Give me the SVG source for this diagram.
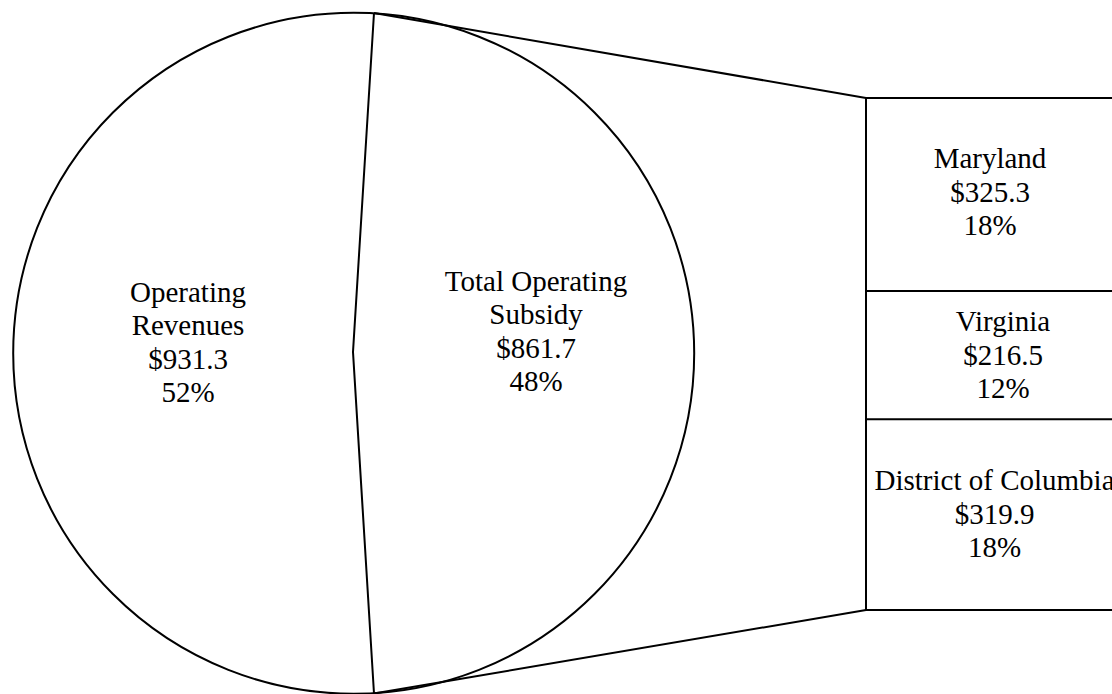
<svg xmlns="http://www.w3.org/2000/svg" width="1112" height="694" viewBox="0 0 1112 694">
<style>
.ln{fill:none;stroke:#000;stroke-width:2}
.t{font-family:"Liberation Serif","Times New Roman",serif;font-size:29px;fill:#000;text-anchor:middle}
</style>
<rect width="1112" height="694" fill="#fff"/>
<g id="pie">
<circle class="ln" cx="353.7" cy="353.3" r="340.5"/>
<polyline class="ln" points="374,13 353,352 374,693.5"/>
</g>
<g id="connectors">
<line class="ln" x1="374" y1="13" x2="866" y2="98"/>
<line class="ln" x1="374" y1="693.5" x2="866" y2="610"/>
</g>
<g id="bar">
<rect class="ln" x="866" y="98" width="260" height="512"/>
<line class="ln" x1="866" y1="291" x2="1126" y2="291"/>
<line class="ln" x1="866" y1="419.3" x2="1126" y2="419.3"/>
</g>
<g id="operating-revenues">
<text class="t" x="188" y="301.5">Operating</text>
<text class="t" x="188" y="335">Revenues</text>
<text class="t" x="188" y="368.5">$931.3</text>
<text class="t" x="188" y="402">52%</text>
</g>
<g id="total-operating-subsidy">
<text class="t" x="536" y="291">Total Operating</text>
<text class="t" x="536" y="324">Subsidy</text>
<text class="t" x="536" y="357.5">$861.7</text>
<text class="t" x="536" y="391">48%</text>
</g>
<g id="maryland">
<text class="t" x="990" y="168.3">Maryland</text>
<text class="t" x="990" y="202">$325.3</text>
<text class="t" x="990" y="235">18%</text>
</g>
<g id="virginia">
<text class="t" x="1003" y="331">Virginia</text>
<text class="t" x="1003" y="364.5">$216.5</text>
<text class="t" x="1003" y="398">12%</text>
</g>
<g id="district-of-columbia">
<text class="t" x="994.5" y="490">District of Columbia</text>
<text class="t" x="994.5" y="523.5">$319.9</text>
<text class="t" x="994.5" y="557">18%</text>
</g>
</svg>
